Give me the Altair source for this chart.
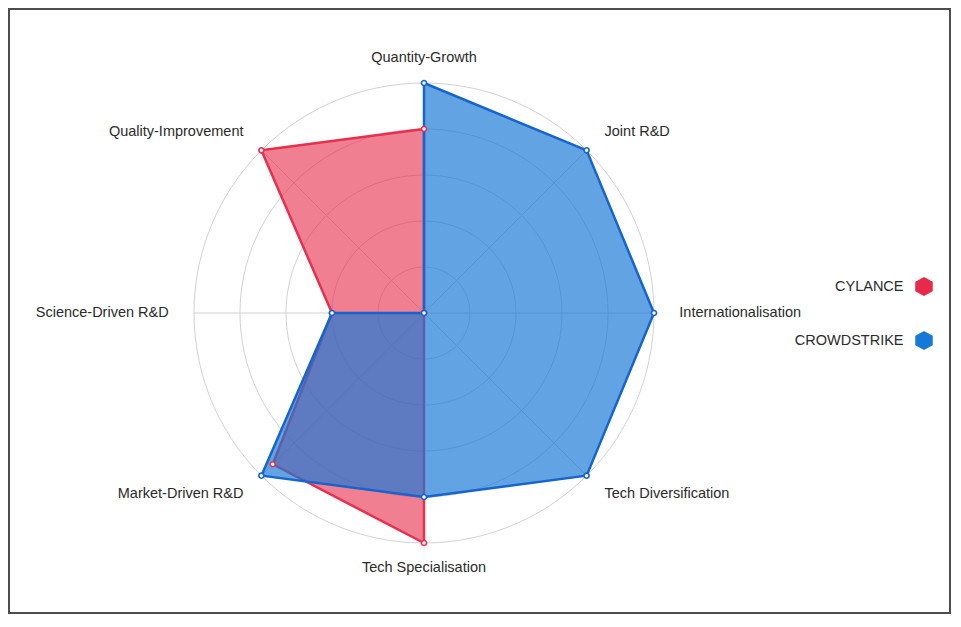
import altair as alt
import pandas as pd

# ---------------- data ----------------
categories = [
    "Quantity-Growth",
    "Joint R&D",
    "Internationalisation",
    "Tech Diversification",
    "Tech Specialisation",
    "Market-Driven R&D",
    "Science-Driven R&D",
    "Quality-Improvement",
]
series_names = ["CYLANCE", "CROWDSTRIKE"]
cylance_values = [4, 0, 0, 0, 5, 4.65, 2, 5]
crowdstrike_values = [5, 5, 5, 5, 4, 5, 2, 0]
ring_levels = [1, 2, 3, 4, 5]
max_level = 5

# ---------------- styles ----------------
stroke_colors = ["#e6304e", "#1565cc"]
fill_colors = ["#e8294a", "#1878d7"]
fill_opacities = [0.6, 0.68]
grid_color = "#d2d2d2"
text_color = "#2b2b2b"
font = "Liberation Sans"
HEX = "M0,-1L0.92,-0.5L0.92,0.5L0,1L-0.92,0.5L-0.92,-0.5Z"

rows = []
for s, vals in zip(series_names, [cylance_values, crowdstrike_values]):
    for i, (c, v) in enumerate(zip(categories, vals)):
        rows.append({"series": s, "category": c, "idx": i, "value": v})
df = pd.DataFrame(rows)
cat_df = pd.DataFrame({"category": categories, "idx": list(range(len(categories)))})

N = len(categories)
ang = f"datum.idx * 2 * PI / {N}"
label_r = 5.55

W, H = 943, 606
x_scale = alt.Scale(domain=[-9.0435, 11.4565], nice=False, zero=False)
y_scale = alt.Scale(domain=[-6.5435, 6.6304], nice=False, zero=False)


def X(f):
    return alt.X(f, scale=x_scale, axis=None)


def Y(f):
    return alt.Y(f, scale=y_scale, axis=None)


# grid rings
rings = (
    alt.Chart(alt.sequence(0, 361, 3, as_="deg"))
    .transform_calculate(levels=str(ring_levels))
    .transform_flatten(["levels"], as_=["level"])
    .transform_calculate(
        gx="datum.level * sin(datum.deg * PI / 180)",
        gy="datum.level * cos(datum.deg * PI / 180)",
    )
    .mark_line(color=grid_color, strokeWidth=1)
    .encode(x=X("gx:Q"), y=Y("gy:Q"), detail="level:N", order="deg:Q")
)

# spokes
spokes = (
    alt.Chart(cat_df)
    .transform_calculate(
        sx=f"{max_level} * sin({ang})",
        sy=f"{max_level} * cos({ang})",
        zero="0",
    )
    .mark_rule(color=grid_color, strokeWidth=1)
    .encode(x=X("zero:Q"), y=Y("zero:Q"), x2="sx:Q", y2="sy:Q")
)

legend = alt.Legend(
    title=None,
    orient="none",
    legendX=906.5,
    legendY=269,
    symbolType=HEX,
    symbolSize=361,
    symbolStrokeWidth=0,
    symbolOpacity=1,
    labelAlign="right",
    labelOffset={"expr": "-30"},
    labelFontSize=14.5,
    labelColor=text_color,
    labelFont=font,
    rowPadding=35,
)

fill_scale = alt.Scale(domain=series_names, range=fill_colors)
stroke_scale = alt.Scale(domain=series_names, range=stroke_colors)


def polygon(i):
    return (
        alt.Chart(df)
        .transform_filter(alt.datum.series == series_names[i])
        .transform_calculate(
            px=f"datum.value * sin({ang})",
            py=f"datum.value * cos({ang})",
        )
        .mark_line(
            interpolate="linear-closed",
            strokeWidth=2.5,
            strokeJoin="round",
            fillOpacity=fill_opacities[i],
        )
        .encode(
            x=X("px:Q"),
            y=Y("py:Q"),
            order="idx:Q",
            fill=alt.Fill("series:N", scale=fill_scale, legend=legend),
            stroke=alt.Stroke("series:N", scale=stroke_scale, legend=None),
        )
    )


points = (
    alt.Chart(df)
    .transform_calculate(
        px=f"datum.value * sin({ang})",
        py=f"datum.value * cos({ang})",
    )
    .mark_point(shape="circle", filled=True, fill="white", size=26, strokeWidth=1.6, opacity=1)
    .encode(
        x=X("px:Q"),
        y=Y("py:Q"),
        stroke=alt.Stroke("series:N", scale=stroke_scale, legend=None),
    )
)

label_base = alt.Chart(cat_df).transform_calculate(
    lx=f"{label_r} * sin({ang})",
    ly=f"{label_r} * cos({ang})",
    s=f"sin({ang})",
)
text_kw = dict(baseline="middle", fontSize=14.5, font=font, color=text_color)
labels_left = label_base.transform_filter("datum.s > 0.01").mark_text(align="left", **text_kw).encode(
    x=X("lx:Q"), y=Y("ly:Q"), text="category:N"
)
labels_right = label_base.transform_filter("datum.s < -0.01").mark_text(align="right", **text_kw).encode(
    x=X("lx:Q"), y=Y("ly:Q"), text="category:N"
)
labels_center = label_base.transform_filter("abs(datum.s) <= 0.01").mark_text(align="center", **text_kw).encode(
    x=X("lx:Q"), y=Y("ly:Q"), text="category:N"
)

chart = (
    alt.layer(rings, spokes, polygon(0), polygon(1), points, labels_left, labels_right, labels_center)
    .properties(width=W, height=H, padding=0, background="white")
    .configure_view(stroke="#4d4d4d", strokeWidth=4)
)

chart.save("out.html", embed_options={"renderer": "svg", "actions": False})
